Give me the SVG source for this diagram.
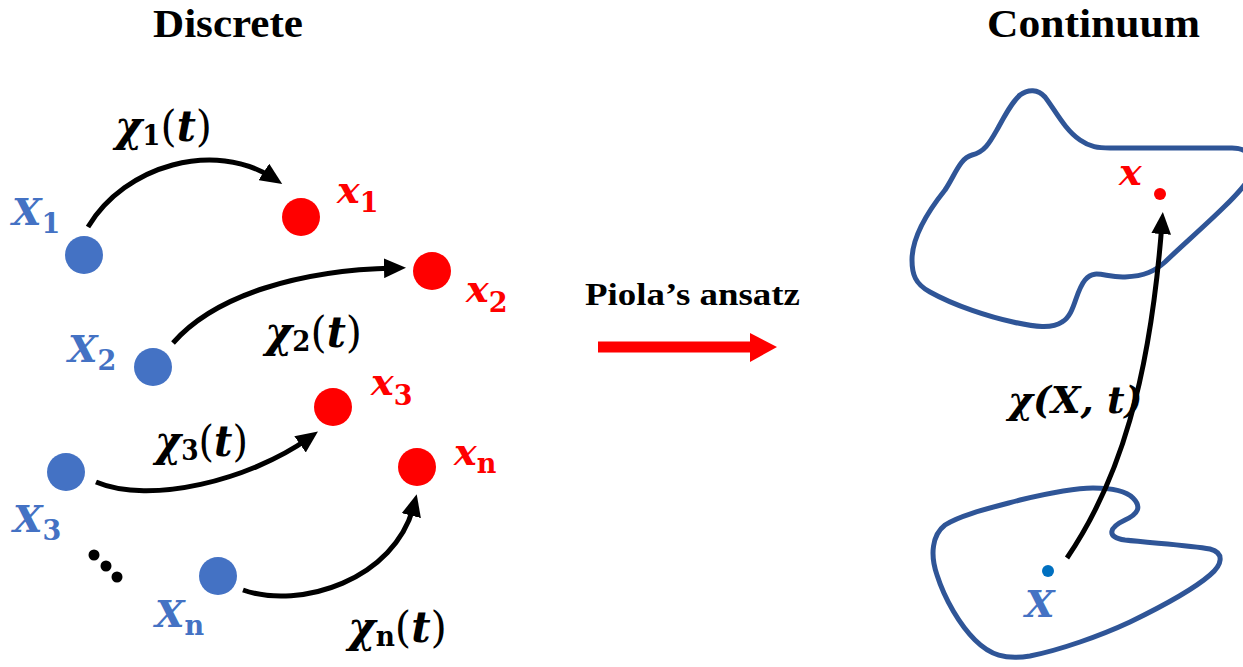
<svg xmlns="http://www.w3.org/2000/svg" width="1243" height="667" viewBox="0 0 1243 667">
<style>
.title{font-family:"Liberation Serif","Times New Roman",serif;font-weight:bold;fill:#000}
.m{font-family:"DejaVu Serif",serif;font-style:italic;font-weight:bold;font-size:38px;fill:#000}
.big{font-size:43px}
.sub{font-size:27px;font-style:normal}
.par{font-weight:normal;font-style:normal}
.blue{fill:#4472C4}
.red{fill:#FF0000}
.conn{fill:none;stroke:#000;stroke-width:5;marker-end:url(#ah)}
.region{fill:none;stroke:#2F5597;stroke-width:5;stroke-linejoin:round}
.bdot{fill:#4472C4}
.rdot{fill:#FF0000}
</style>
<defs>
<marker id="ah" markerUnits="userSpaceOnUse" markerWidth="22" markerHeight="20" viewBox="0 0 20 18" refX="10" refY="9" orient="auto">
<path d="M0,0 L20,9 L0,18 Z" fill="#000"/>
</marker>
</defs>
<rect width="1243" height="667" fill="#fff"/>

<g id="titles">
<text class="title" x="153" y="37" font-size="41" textLength="150" lengthAdjust="spacingAndGlyphs">Discrete</text>
<text class="title" x="987" y="37" font-size="41" textLength="213" lengthAdjust="spacingAndGlyphs">Continuum</text>
</g>

<g id="node-X1"><circle class="bdot" cx="84" cy="255" r="19"/><text class="m blue" x="12" y="225">X<tspan class="sub" dy="8">1</tspan></text></g>
<g id="node-X2"><circle class="bdot" cx="153" cy="367" r="19"/><text class="m blue" x="68" y="362">X<tspan class="sub" dy="8">2</tspan></text></g>
<g id="node-X3"><circle class="bdot" cx="66" cy="472" r="19"/><text class="m blue" x="13" y="532">X<tspan class="sub" dy="8">3</tspan></text></g>
<g id="node-Xn"><circle class="bdot" cx="218" cy="576" r="19"/><text class="m blue" x="155" y="627">X<tspan class="sub" dy="8">n</tspan></text></g>

<g id="node-x1"><circle class="rdot" cx="301" cy="217" r="19"/><text class="m red" x="337" y="203">x<tspan class="sub" dy="9">1</tspan></text></g>
<g id="node-x2"><circle class="rdot" cx="432" cy="271" r="19"/><text class="m red" x="466" y="302">x<tspan class="sub" dy="10">2</tspan></text></g>
<g id="node-x3"><circle class="rdot" cx="333" cy="407" r="19"/><text class="m red" x="371" y="395">x<tspan class="sub" dy="10">3</tspan></text></g>
<g id="node-xn"><circle class="rdot" cx="417" cy="467" r="19"/><text class="m red" x="454" y="465">x<tspan class="sub" dy="8">n</tspan></text></g>

<g id="ellipsis">
<circle cx="94" cy="555" r="5.5" fill="#000"/>
<circle cx="106" cy="566" r="5.5" fill="#000"/>
<circle cx="117" cy="577" r="5.5" fill="#000"/>
</g>

<g id="continuum-regions">
<path class="region" d="M1020,95 C1028,89 1038,89 1045,97 C1055,110 1065,130 1080,140 C1090,147 1098,148 1110,148 L1232,148 C1250,148 1256,160 1248,180 C1235,200 1190,238 1165,262 C1155,271 1145,276 1125,277 C1105,278 1095,268 1085,280 C1075,292 1075,315 1062,322 C1052,329 1035,327 1013,322 C990,317 955,306 930,292 C915,284 912,274 912,260 C912,240 925,215 945,190 C955,175 960,158 972,155 C985,152 990,142 998,128 C1005,115 1012,102 1020,95 Z"/>
<path class="region" d="M1093,488 C1110,488 1125,490 1133,498 C1142,507 1138,514 1125,520 C1110,527 1105,537 1125,540 C1150,543 1190,545 1210,549 C1225,553 1222,565 1210,575 C1195,588 1165,605 1130,622 C1100,636 1060,650 1030,656 C1005,660 990,655 975,640 C960,625 945,600 937,575 C930,555 932,535 945,525 C960,515 990,508 1020,500 C1045,494 1075,488 1093,488 Z"/>
</g>

<g id="node-x"><circle cx="1160" cy="194" r="6" fill="#FF0000"/><text class="m red" x="1119" y="185">x</text></g>
<g id="node-X"><circle cx="1048" cy="571" r="6" fill="#0070C0"/><text class="m blue" x="1025" y="617">X</text></g>

<g id="connectors">
<path class="conn" d="M88,227 C125,165 215,140 273,178"/>
<path class="conn" d="M173,343 C215,295 300,270 395,268"/>
<path class="conn" d="M96,482 C150,505 250,480 309,438"/>
<path class="conn" d="M243,590 C300,610 395,580 414,505"/>
<path class="conn" d="M1067,558 C1120,480 1150,380 1162,223"/>
</g>

<g id="connector-labels">
<text class="m big" x="115" y="141" textLength="97" lengthAdjust="spacingAndGlyphs">χ<tspan class="sub" dy="4">1</tspan><tspan class="par" dy="-4">(</tspan>t<tspan class="par">)</tspan></text>
<text class="m big" x="265" y="347" textLength="97" lengthAdjust="spacingAndGlyphs">χ<tspan class="sub" dy="4">2</tspan><tspan class="par" dy="-4">(</tspan>t<tspan class="par">)</tspan></text>
<text class="m big" x="155" y="456" textLength="93" lengthAdjust="spacingAndGlyphs">χ<tspan class="sub" dy="4">3</tspan><tspan class="par" dy="-4">(</tspan>t<tspan class="par">)</tspan></text>
<text class="m big" x="348" y="642" textLength="99" lengthAdjust="spacingAndGlyphs">χ<tspan class="sub" dy="4">n</tspan><tspan class="par" dy="-4">(</tspan>t<tspan class="par">)</tspan></text>
<text class="m" x="1008" y="413" font-size="38">χ(X, t)</text>
</g>

<g id="piola">
<text class="title" x="585" y="305" font-size="31" textLength="215" lengthAdjust="spacingAndGlyphs">Piola’s ansatz</text>
<rect x="598" y="341.5" width="154" height="11" fill="#FF0000"/>
<polygon points="750,333 777,347 750,362" fill="#FF0000"/>
</g>
</svg>
